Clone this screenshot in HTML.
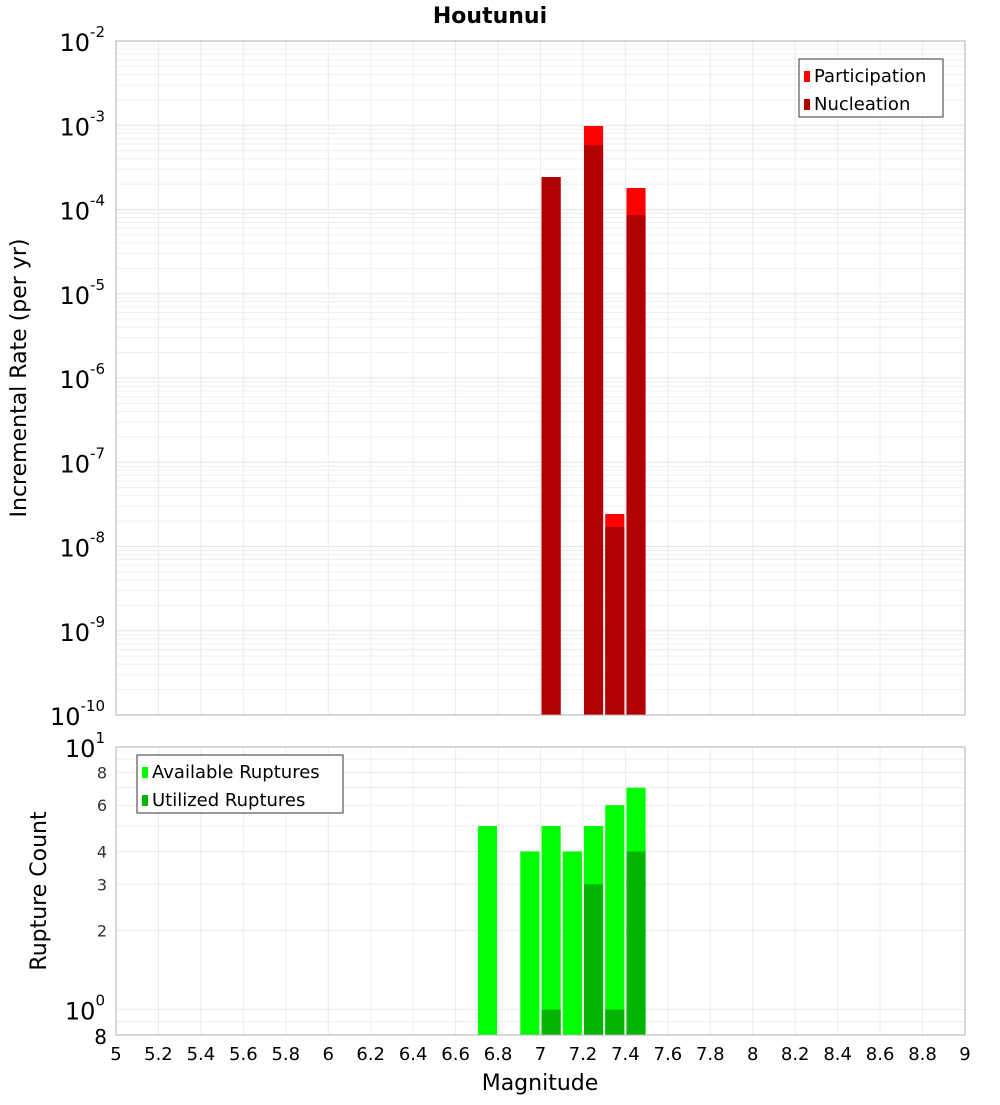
<!DOCTYPE html>
<html><head><meta charset="utf-8"><style>
body{margin:0;background:#fff;}
svg text{font-family:"DejaVu Sans","Liberation Sans",sans-serif;}
</style></head><body>
<svg id="c" width="1000" height="1100" xmlns="http://www.w3.org/2000/svg"></svg>
<script>
const binCenters=[6.75,6.95,7.05,7.15,7.25,7.35,7.45];
const participation=[null,null,2.43e-4,null,9.8e-4,2.43e-8,1.8e-4];
const nucleation=[null,null,2.43e-4,null,5.8e-4,1.7e-8,8.6e-5];
const available=[5,4,5,4,5,6,7];
const utilized=[0,0,1,0,3,1,4];
const xTicks=[5,5.2,5.4,5.6,5.8,6,6.2,6.4,6.6,6.8,7,7.2,7.4,7.6,7.8,8,8.2,8.4,8.6,8.8,9];
const topDecades=[-2,-3,-4,-5,-6,-7,-8,-9,-10];
const botTicks=[8,6,4,3,2];

const NS="http://www.w3.org/2000/svg";
const svg=document.getElementById('c');
function mk(tag,attrs,parent){const e=document.createElementNS(NS,tag);for(const k in attrs)e.setAttribute(k,attrs[k]);(parent||svg).appendChild(e);return e;}
const X0=116,X1=965;
const x=m=>X0+(m-5)/4*(X1-X0);
const T0=41,T1=715;
const yTop=v=>T0+(-2-Math.log10(v))/8*(T1-T0);
const B0=747,B1=1035;
const yBot=v=>B0+(1-Math.log10(v))/(1-Math.log10(0.8))*(B1-B0);

// title
let t=mk('text',{x:490,y:23,'text-anchor':'middle','font-size':22,'font-weight':'bold'});t.textContent='Houtunui';


// top grid
for(let d=-10;d<-2;d++){for(let k=1;k<10;k++){const v=k*Math.pow(10,d);if(v<1e-10)continue;
 const l=mk('line',{x1:X0,x2:X1,y1:yTop(v),y2:yTop(v),stroke:k==1?'#e4e4e4':'#efefef','stroke-width':1});
 }}
for(const m of xTicks){const l=mk('line',{x1:x(m),x2:x(m),y1:T0,y2:T1,stroke:'#ebebeb'});
 
 const l2=mk('line',{x1:x(m),x2:x(m),y1:B0,y2:B1,stroke:'#ebebeb'});
 }
// bottom grid
for(const v of [0.9,1,2,3,4,5,6,7,8,9]){const l=mk('line',{x1:X0,x2:X1,y1:yBot(v),y2:yBot(v),stroke:'#ebebeb'});
 }

// bars
const bw=(X1-X0)/40*0.9;
binCenters.forEach((c,i)=>{
 const bx=x(c)-bw/2;
 if(participation[i]){const r=mk('rect',{x:bx,y:yTop(participation[i]),width:bw,height:T1-yTop(participation[i]),fill:'#ff0000'});
  }
 if(nucleation[i]){const r=mk('rect',{x:bx,y:yTop(nucleation[i]),width:bw,height:T1-yTop(nucleation[i]),fill:'#b00000'});
  }
 if(available[i]){const r=mk('rect',{x:bx,y:yBot(available[i]),width:bw,height:B1-yBot(available[i]),fill:'#00ff00'});
  }
 if(utilized[i]){const r=mk('rect',{x:bx,y:yBot(utilized[i]),width:bw,height:B1-yBot(utilized[i]),fill:'#00b400'});
  }
});

// frames
let f=mk('rect',{x:X0,y:T0,width:X1-X0,height:T1-T0,fill:'none',stroke:'#b0b0b0'});

f=mk('rect',{x:X0,y:B0,width:X1-X0,height:B1-B0,fill:'none',stroke:'#b0b0b0'});


// top y ticks
for(const d of topDecades){const y=yTop(Math.pow(10,d));
 const g=mk('text',{x:105,y:y+10,'text-anchor':'end','font-size':24});
 
 const a=mk('tspan',{},g);a.textContent='10';
 const b=mk('tspan',{dy:-14,'font-size':15},g);b.textContent=String(d);}
// bottom y ticks
let g=mk('text',{x:105,y:yBot(10)+10,'text-anchor':'end','font-size':24});

mk('tspan',{},g).textContent='10';let s=mk('tspan',{dy:-14,'font-size':15},g);s.textContent='1';
g=mk('text',{x:105,y:yBot(1)+10,'text-anchor':'end','font-size':24});

mk('tspan',{},g).textContent='10';s=mk('tspan',{dy:-14,'font-size':15},g);s.textContent='0';
for(const v of botTicks){const tt=mk('text',{x:107,y:yBot(v)+6,'text-anchor':'end','font-size':16,fill:'#333'});tt.textContent=String(v);
 }
const t8=mk('text',{x:107,y:B1+9,'text-anchor':'end','font-size':20});t8.textContent='8';


// x ticks
for(const m of xTicks){const tt=mk('text',{x:x(m),y:1060,'text-anchor':'middle','font-size':18});
 tt.textContent=String(Math.round(m*10)/10);
 }
t=mk('text',{x:540,y:1090,'text-anchor':'middle','font-size':22});t.textContent='Magnitude';

t=mk('text',{x:0,y:0,'text-anchor':'middle','font-size':22,transform:'translate(26,378) rotate(-90)'});t.textContent='Incremental Rate (per yr)';

t=mk('text',{x:0,y:0,'text-anchor':'middle','font-size':22,transform:'translate(46,891) rotate(-90)'});t.textContent='Rupture Count';


// legends
function legend(lx,ly,w,items,name){
 const gg=mk('g',{});
 mk('rect',{x:lx,y:ly,width:w,height:58,fill:'#fff',stroke:'#333'},gg);
 items.forEach((it,i)=>{mk('rect',{x:lx+5,y:ly+12+i*28,width:6,height:11,fill:it[1]},gg);
  const tx=mk('text',{x:lx+15,y:ly+23+i*28,'font-size':18},gg);tx.textContent=it[0];});
}
legend(799,59,144,[['Participation','#ff0000'],['Nucleation','#b00000']],'top-legend');
legend(137,755,206,[['Available Ruptures','#00ff00'],['Utilized Ruptures','#00b400']],'bottom-legend');
</script>
</body></html>
